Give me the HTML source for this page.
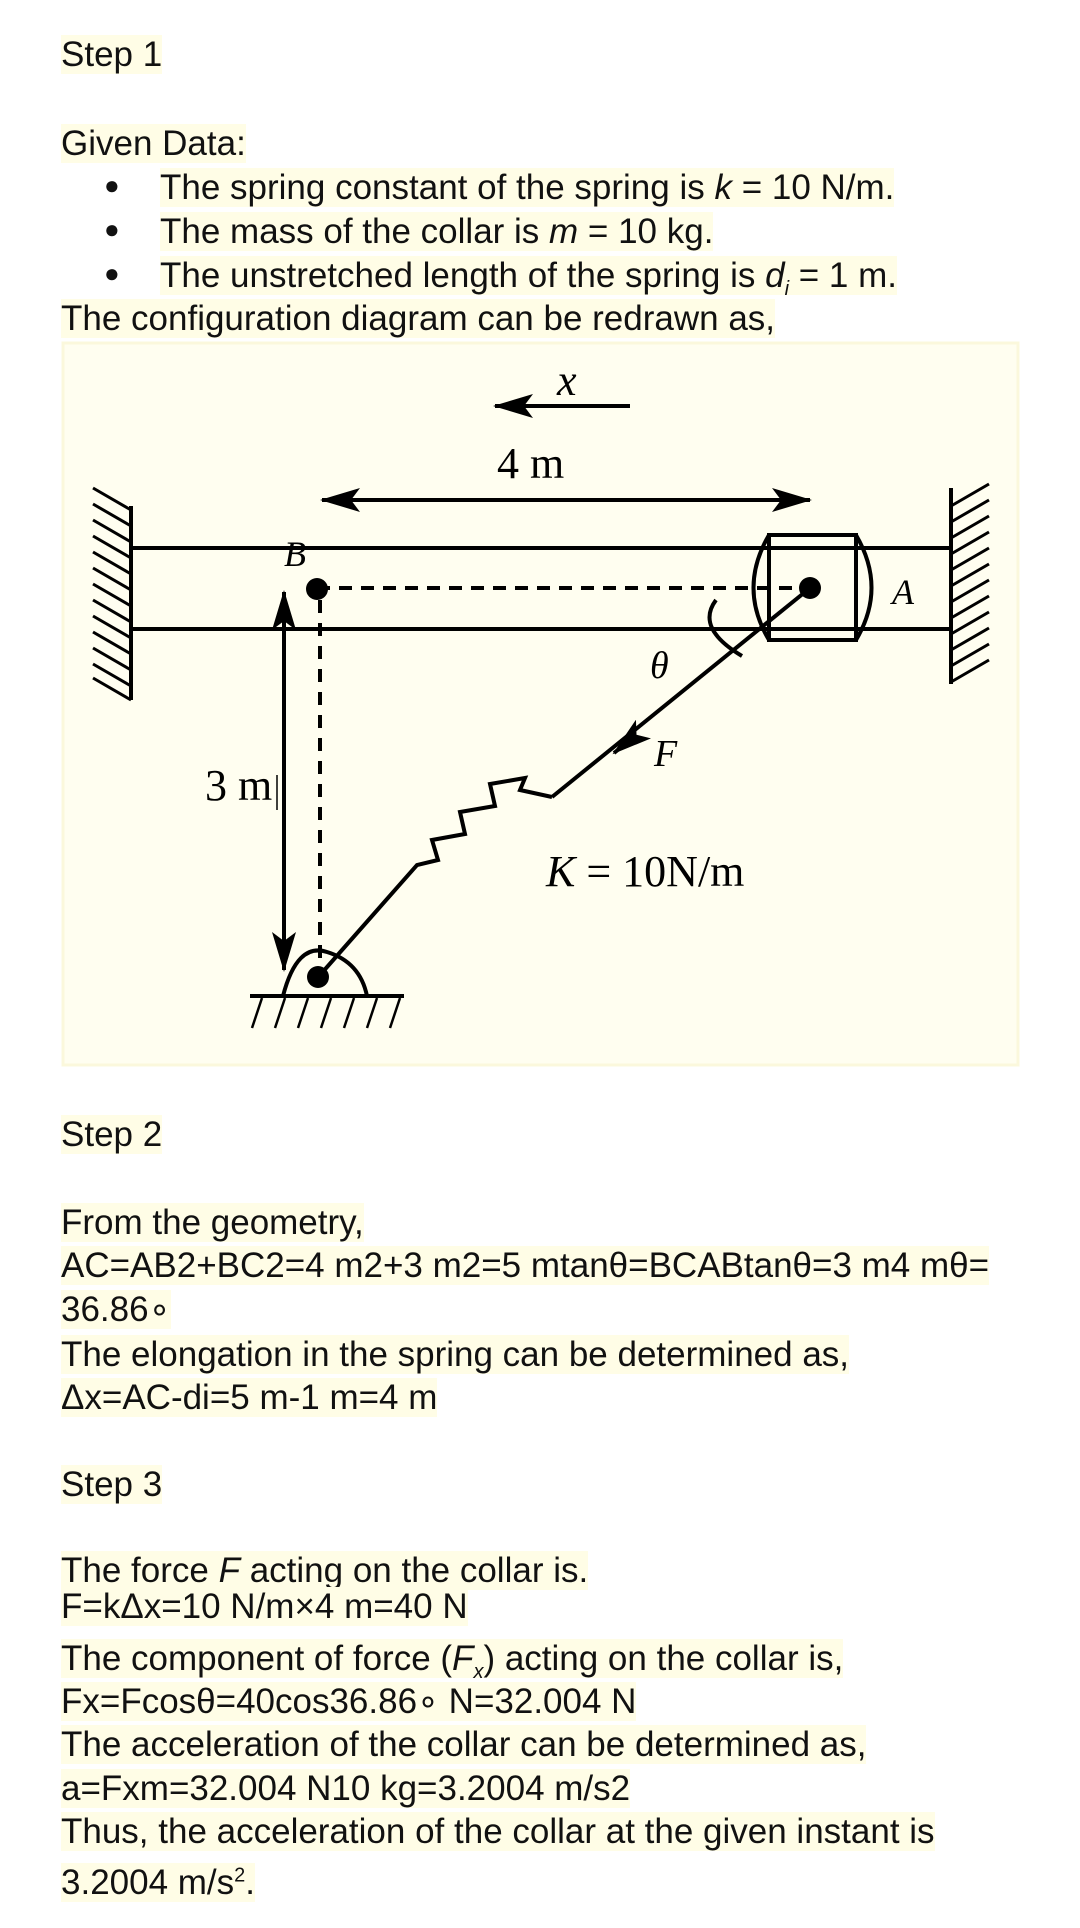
<!DOCTYPE html>
<html><head><meta charset="utf-8"><style>
body{margin:0;width:1080px;height:1928px;background:#fff;position:relative;overflow:hidden;font-family:"Liberation Sans",Arial,sans-serif;font-size:35px;color:#111}
.t{position:absolute;left:61px;white-space:nowrap;line-height:40px}
.t span{background:#fffde6}
.b{position:absolute;left:104px;font-size:26px}
svg{position:absolute;left:0;top:0}
</style></head><body>
<div class="t" style="top:35px"><span>Step 1</span></div>
<div class="t" style="top:124px"><span>Given Data:</span></div>
<div class="b" style="top:170px">●</div><div class="t" style="left:160px;top:168px"><span>The spring constant of the spring is <i>k</i> = 10 N/m.</span></div>
<div class="b" style="top:214px">●</div><div class="t" style="left:160px;top:212px"><span>The mass of the collar is <i>m</i> = 10 kg.</span></div>
<div class="b" style="top:258px">●</div><div class="t" style="left:160px;top:256px"><span>The unstretched length of the spring is <i>d<sub style="font-size:20px">i</sub></i> = 1 m.</span></div>
<div class="t" style="top:299px"><span>The configuration diagram can be redrawn as,</span></div>

<svg width="1080" height="1100" viewBox="0 0 1080 1100">
<rect x="63" y="343" width="955" height="722" fill="#fffef0" stroke="#fbf8dc" stroke-width="3"/>
<defs>
<marker id="big" markerWidth="40" markerHeight="24" refX="38" refY="12" orient="auto-start-reverse" markerUnits="userSpaceOnUse"><path d="M0,0 L40,12 L0,24 L9,12z" fill="#000"/></marker></defs>
<g stroke="#000" stroke-width="4" fill="none">
<line x1="630" y1="406" x2="495" y2="406" marker-end="url(#big)"/>
<line x1="322" y1="500" x2="810" y2="500" marker-start="url(#big)" marker-end="url(#big)"/>
<line x1="131" y1="506" x2="131" y2="700"/>
<line x1="951" y1="488" x2="951" y2="684"/>
<line x1="131" y1="548" x2="951" y2="548"/>
<line x1="131" y1="629" x2="951" y2="629"/>
<path d="M131,510 l-38,-22 M131,526 l-38,-22 M131,542 l-38,-22 M131,558 l-38,-22 M131,574 l-38,-22 M131,590 l-38,-22 M131,606 l-38,-22 M131,622 l-38,-22 M131,638 l-38,-22 M131,654 l-38,-22 M131,670 l-38,-22 M131,686 l-38,-22 M131,700 l-38,-22" stroke-width="3"/>
<path d="M951,506 l38,-22 M951,522 l38,-22 M951,538 l38,-22 M951,554 l38,-22 M951,570 l38,-22 M951,586 l38,-22 M951,602 l38,-22 M951,618 l38,-22 M951,634 l38,-22 M951,650 l38,-22 M951,666 l38,-22 M951,682 l38,-22" stroke-width="3"/>
<line x1="317" y1="588" x2="810" y2="588" stroke-dasharray="13,9"/>
<line x1="320" y1="600" x2="320" y2="962" stroke-dasharray="13,10"/>
<rect x="769" y="535" width="87" height="105"/>
<path d="M769,535 Q738,588 769,640 M856,535 Q887,588 856,640"/>
<line x1="284" y1="592" x2="284" y2="970" marker-start="url(#big)" marker-end="url(#big)"/>
<line x1="277" y1="775" x2="277" y2="810" stroke-width="1.5"/>
<path d="M716,600 Q695,628 742,656"/>
<line x1="810" y1="588" x2="552" y2="797"/>
<line x1="630" y1="740" x2="614" y2="753" marker-end="url(#big)"/>
<path d="M320,975 L417,865 L438,860 L432,840 L465,834 L460,812 L495,806 L490,784 L525,778 L520,790 L552,797"/>
<path d="M283,996 Q297,942 327,952 Q360,962 367,996"/>
<line x1="250" y1="996" x2="404" y2="996"/>
<path d="M262,998 l-10,30 M285,998 l-10,30 M308,998 l-10,30 M331,998 l-10,30 M354,998 l-10,30 M377,998 l-10,30 M400,998 l-10,30" stroke-width="2.5"/>
</g>
<circle cx="317" cy="589" r="11" fill="#000"/>
<circle cx="810" cy="588" r="11" fill="#000"/>
<circle cx="318" cy="977" r="11" fill="#000"/>
<g font-family="Liberation Serif,serif" font-size="44" fill="#000">
<text x="557" y="395" font-style="italic">x</text>
<text x="497" y="478">4 m</text>
<text x="284" y="566" font-style="italic" font-size="36">B</text>
<text x="892" y="604" font-style="italic" font-size="36">A</text>
<text x="650" y="678" font-style="italic" font-size="38">θ</text>
<text x="654" y="766" font-style="italic" font-size="38">F</text>
<text x="205" y="800">3 m</text>
<text x="546" y="886"><tspan font-style="italic">K</tspan> = 10N/m</text>
</g>
</svg>

<div class="t" style="top:1115px"><span>Step 2</span></div>
<div class="t" style="top:1203px"><span>From the geometry,</span></div>
<div class="t" style="top:1246px"><span>AC=AB2+BC2=4 m2+3 m2=5 mtanθ=BCABtanθ=3 m4 mθ=</span></div>
<div class="t" style="top:1290px"><span>36.86∘</span></div>
<div class="t" style="top:1335px"><span>The elongation in the spring can be determined as,</span></div>
<div class="t" style="top:1378px"><span>Δx=AC-di=5 m-1 m=4 m</span></div>
<div class="t" style="top:1465px"><span>Step 3</span></div>
<div class="t" style="top:1551px"><span>The force <i>F</i> acting on the collar is.</span></div>
<div class="t" style="top:1587px"><span>F=kΔx=10 N/m×4 m=40 N</span></div>
<div class="t" style="top:1639px"><span>The component of force (<i>F<sub style="font-size:20px">x</sub></i>) acting on the collar is,</span></div>
<div class="t" style="top:1682px"><span>Fx=Fcosθ=40cos36.86∘ N=32.004 N</span></div>
<div class="t" style="top:1725px"><span>The acceleration of the collar can be determined as,</span></div>
<div class="t" style="top:1769px"><span>a=Fxm=32.004 N10 kg=3.2004 m/s2</span></div>
<div class="t" style="top:1812px"><span>Thus, the acceleration of the collar at the given instant is</span></div>
<div class="t" style="top:1855px"><span>3.2004 m/s<sup style="font-size:20px">2</sup>.</span></div>
</body></html>
